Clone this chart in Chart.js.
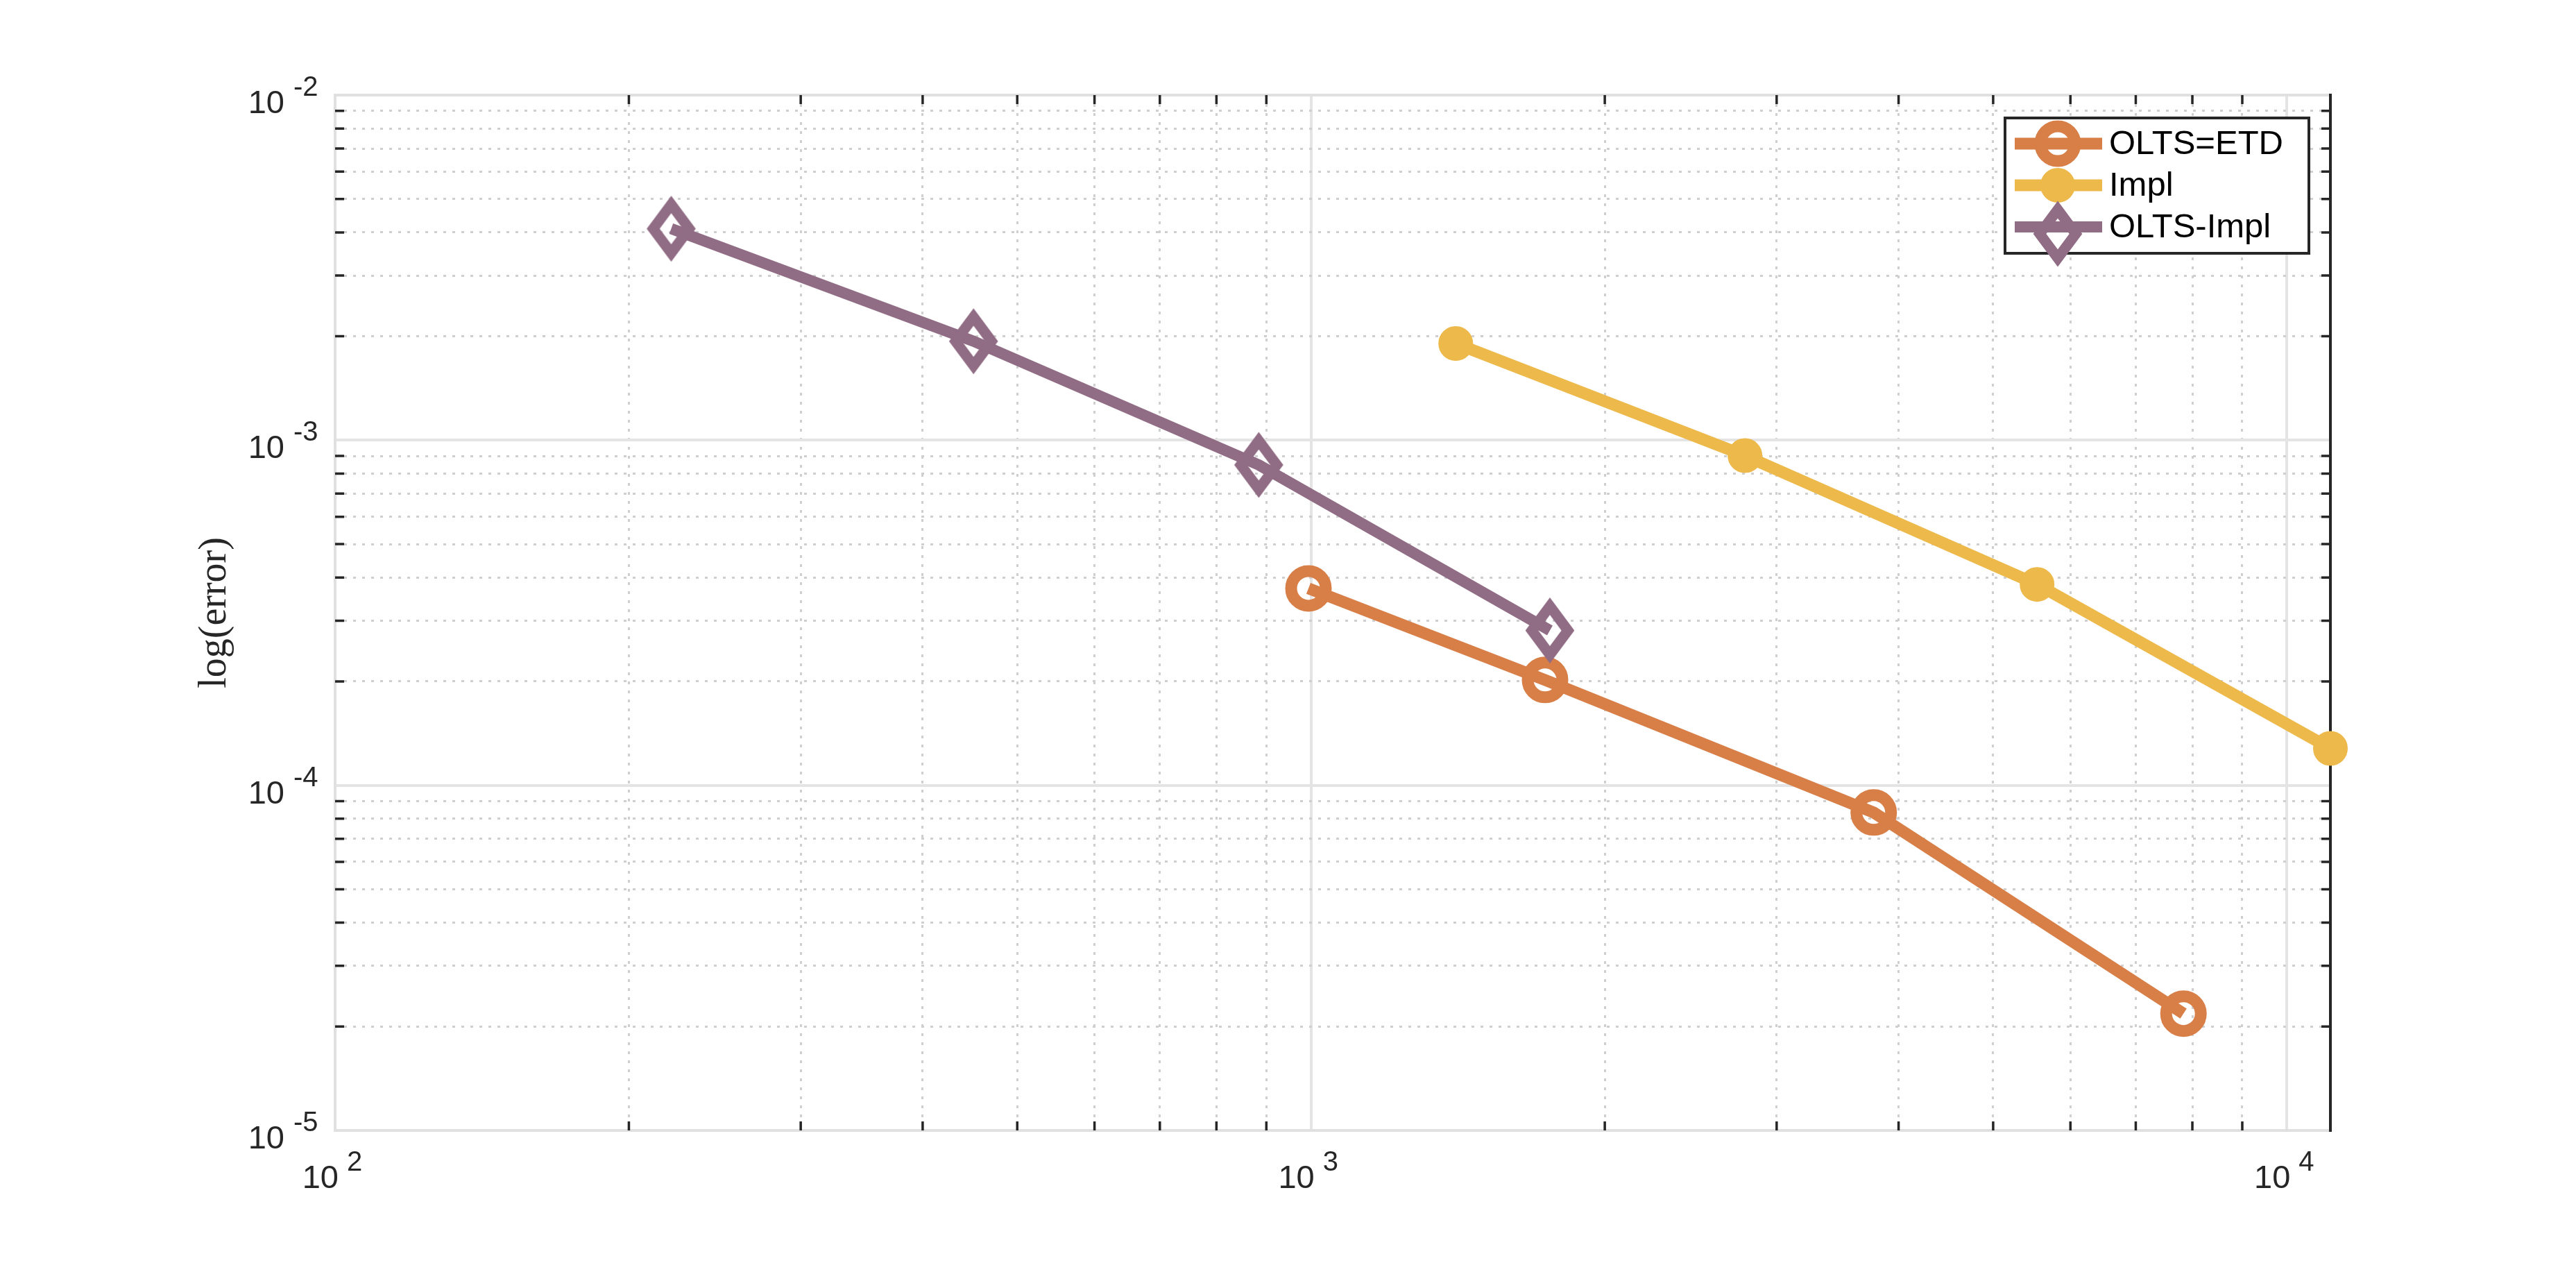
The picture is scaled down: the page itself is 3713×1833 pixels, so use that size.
<!DOCTYPE html>
<html>
<head>
<meta charset="utf-8">
<script src="https://cdn.jsdelivr.net/npm/chart.js@4"></script>
<style>
  html, body { margin: 0; padding: 0; background: #fff; }
</style>
</head>
<body>
<canvas id="myChart" width="3713" height="1833"></canvas>
<script>
// values (log-log)
const xEtd = [994, 1737, 3772, 7834];
const yEtd = [3.72e-4, 2.02e-4, 8.34e-5, 2.18e-5];
const xImpl = [1407, 2784, 5546, 11080];
const yImpl = [1.906e-3, 9.02e-4, 3.82e-4, 1.279e-4];
const xOltsImpl = [221, 451, 884, 1757];
const yOltsImpl = [4.10e-3, 1.935e-3, 8.48e-4, 2.81e-4];
const seriesNames = ['OLTS=ETD', 'Impl', 'OLTS-Impl'];
const xTickExps = [2, 3, 4];
const yTickExps = [-2, -3, -4, -5];
const yTitle = 'log(error)';
const xMin = 100, xMax = 11080;
const yMin = 1e-5, yMax = 1e-2;

const cEtd = '#d87e47';
const cImpl = '#edb94a';
const cOlts = '#916c85';
const textCol = '#262626';

function isMajor(v) {
  const l = Math.log10(v);
  return Math.abs(l - Math.round(l)) < 1e-6;
}
function logTicks(lo, hi) {
  const out = [];
  for (let e = Math.floor(Math.log10(lo)); e <= Math.ceil(Math.log10(hi)); e++) {
    for (let m = 1; m <= 9; m++) {
      const v = m * Math.pow(10, e);
      if (v >= lo * 0.999 && v <= hi * 1.001) out.push(v);
    }
  }
  return out;
}

// elongated diamond marker like matlab's 'd'
function diamondImage(color) {
  const c = document.createElement('canvas');
  c.width = 90; c.height = 110;
  const g = c.getContext('2d');
  g.strokeStyle = color;
  g.lineWidth = 15;
  g.lineJoin = 'miter';
  g.miterLimit = 10;
  g.beginPath();
  g.moveTo(45, 20); g.lineTo(71, 55); g.lineTo(45, 90); g.lineTo(19, 55);
  g.closePath();
  g.stroke();
  return c;
}
const diamond = diamondImage(cOlts);

const toPts = (xs, ys) => xs.map((x, i) => ({x: x, y: ys[i]}));

const gridOpts = {
  drawTicks: false,
  color: c => (c.tick && isMajor(c.tick.value)) ? '#e4e4e4' : '#cfcfcf',
  lineWidth: c => (c.tick && isMajor(c.tick.value)) ? 4 : 3
};
const borderOpts = {
  display: false,
  dash: c => (c.tick && isMajor(c.tick.value)) ? [] : [4, 9]
};

const frame = {
  id: 'frame',
  beforeDatasetsDraw(chart) {
    const ctx = chart.ctx;
    const a = chart.chartArea;
    const xs = chart.scales.x, ys = chart.scales.y;
    ctx.save();
    // axis box
    ctx.lineWidth = 4;
    ctx.strokeStyle = '#e0e0e0';
    ctx.beginPath();
    ctx.moveTo(a.right, a.top); ctx.lineTo(a.left, a.top);
    ctx.lineTo(a.left, a.bottom); ctx.lineTo(a.right, a.bottom);
    ctx.stroke();
    ctx.strokeStyle = textCol;
    ctx.beginPath();
    ctx.moveTo(a.right, a.top - 2); ctx.lineTo(a.right, a.bottom + 2);
    ctx.stroke();
    // inner minor ticks
    ctx.lineWidth = 3.5;
    const tl = 13;
    logTicks(xMin, xMax).filter(v => !isMajor(v)).forEach(v => {
      const p = xs.getPixelForValue(v);
      ctx.beginPath();
      ctx.moveTo(p, a.bottom); ctx.lineTo(p, a.bottom - tl);
      ctx.moveTo(p, a.top); ctx.lineTo(p, a.top + tl);
      ctx.stroke();
    });
    logTicks(yMin, yMax).filter(v => !isMajor(v)).forEach(v => {
      const p = ys.getPixelForValue(v);
      ctx.beginPath();
      ctx.moveTo(a.left, p); ctx.lineTo(a.left + tl, p);
      ctx.moveTo(a.right, p); ctx.lineTo(a.right - tl, p);
      ctx.stroke();
    });
    // tick labels 10^n
    ctx.fillStyle = textCol;
    ctx.textBaseline = 'alphabetic';
    xTickExps.forEach(e => {
      const p = xs.getPixelForValue(Math.pow(10, e));
      ctx.font = '47px "Liberation Sans", Arial, sans-serif';
      ctx.textAlign = 'right';
      ctx.fillText('10', p + 5, a.bottom + 83);
      ctx.font = '40px "Liberation Sans", Arial, sans-serif';
      ctx.textAlign = 'left';
      ctx.fillText(String(e), p + 17, a.bottom + 58);
    });
    yTickExps.forEach(e => {
      const p = ys.getPixelForValue(Math.pow(10, e));
      ctx.font = '47px "Liberation Sans", Arial, sans-serif';
      ctx.textAlign = 'right';
      ctx.fillText('10', a.left - 73, p + 26);
      ctx.font = '40px "Liberation Sans", Arial, sans-serif';
      ctx.textAlign = 'left';
      ctx.fillText(String(e), a.left - 60, p + 1);
    });
    // y title
    ctx.translate(a.left - 173, (a.top + a.bottom) / 2);
    ctx.rotate(-Math.PI / 2);
    ctx.font = '56px "Liberation Serif", "Times New Roman", serif';
    ctx.textAlign = 'center';
    ctx.textBaseline = 'middle';
    ctx.fillText(yTitle, 0, 0);
    ctx.restore();
  },
  afterDraw(chart) {
    // legend box, top right inside the axes
    const ctx = chart.ctx;
    const a = chart.chartArea;
    const bw = 438, bh = 195;
    const bx = a.right - 31 - bw, by = a.top + 33;
    ctx.save();
    ctx.fillStyle = '#fff';
    ctx.fillRect(bx, by, bw, bh);
    ctx.lineWidth = 4;
    ctx.strokeStyle = textCol;
    ctx.strokeRect(bx, by, bw, bh);
    chart.data.datasets.forEach((ds, i) => {
      const ry = by + 37 + i * 60;
      const mx = bx + 76;
      ctx.strokeStyle = ds.borderColor;
      ctx.lineWidth = ds.borderWidth;
      ctx.beginPath();
      ctx.moveTo(bx + 14, ry); ctx.lineTo(bx + 140, ry);
      ctx.stroke();
      if (ds.pointStyle === 'circle') {
        ctx.beginPath();
        ctx.arc(mx, ry, ds.pointRadius, 0, Math.PI * 2);
        if (ds.pointBackgroundColor !== 'rgba(0,0,0,0)') {
          ctx.fillStyle = ds.pointBackgroundColor;
          ctx.fill();
        }
        ctx.lineWidth = ds.pointBorderWidth;
        ctx.strokeStyle = ds.pointBorderColor;
        ctx.stroke();
      } else {
        const im = ds.pointStyle;
        ctx.drawImage(im, mx - im.width / 2, ry + 10 - im.height / 2);
      }
      ctx.fillStyle = '#000';
      ctx.font = '49px "Liberation Sans", Arial, sans-serif';
      ctx.textAlign = 'left';
      ctx.textBaseline = 'middle';
      ctx.fillText(ds.label, bx + 150, ry + 1);
    });
    ctx.restore();
  }
};

const ctx = document.getElementById('myChart').getContext('2d');
const myChart = new Chart(ctx, {
  type: 'line',
  data: {
    datasets: [
      {
        label: seriesNames[0],
        data: toPts(xEtd, yEtd),
        borderColor: cEtd, borderWidth: 17,
        pointStyle: 'circle', pointRadius: 25, pointBorderWidth: 17,
        pointBorderColor: cEtd, pointBackgroundColor: 'rgba(0,0,0,0)',
        order: 3
      },
      {
        label: seriesNames[1],
        data: toPts(xImpl, yImpl),
        borderColor: cImpl, borderWidth: 17,
        pointStyle: 'circle', pointRadius: 22, pointBorderWidth: 6,
        pointBorderColor: cImpl, pointBackgroundColor: cImpl,
        order: 2
      },
      {
        label: seriesNames[2],
        data: toPts(xOltsImpl, yOltsImpl),
        borderColor: cOlts, borderWidth: 16,
        pointStyle: diamond, pointRadius: 30,
        order: 1
      }
    ]
  },
  options: {
    responsive: false,
    animation: false,
    devicePixelRatio: 1,
    layout: { padding: { left: 483, right: 354, top: 137, bottom: 204 } },
    elements: { line: { tension: 0 } },
    datasets: { line: { clip: false } },
    plugins: { legend: { display: false }, tooltip: { enabled: false } },
    scales: {
      x: {
        type: 'logarithmic', min: xMin, max: xMax,
        afterBuildTicks: s => { s.ticks = logTicks(xMin, xMax).map(v => ({value: v})); },
        ticks: { display: false },
        grid: gridOpts,
        border: borderOpts
      },
      y: {
        type: 'logarithmic', min: yMin, max: yMax,
        afterBuildTicks: s => { s.ticks = logTicks(yMin, yMax).map(v => ({value: v})); },
        ticks: { display: false },
        grid: gridOpts,
        border: borderOpts
      }
    }
  },
  plugins: [frame]
});
</script>
</body>
</html>
